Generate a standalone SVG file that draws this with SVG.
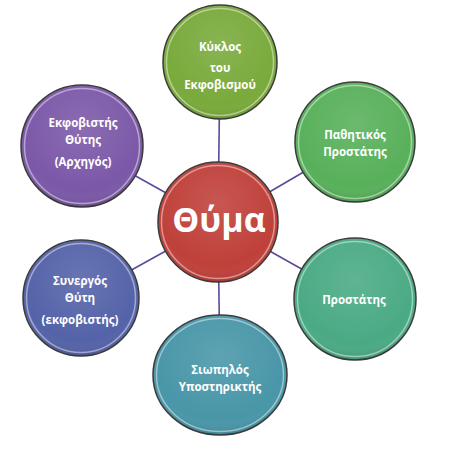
<svg xmlns="http://www.w3.org/2000/svg" width="471" height="460" viewBox="0 0 471 460">
<style>
.rim{stroke:#3a3a3a;stroke-width:1.5}
.hl{fill:none;stroke:#ffffff;stroke-opacity:0.45;stroke-width:1.5}
.lbl{font-family:"Open Sans","DejaVu Sans",sans-serif;font-weight:bold;font-size:11.5px;fill:#ffffff;text-anchor:middle}
.big{font-family:"Open Sans","DejaVu Sans",sans-serif;font-weight:bold;font-size:34px;fill:#ffffff;text-anchor:middle}
.conn line{stroke:#5a4a9a;stroke-width:1.6}
</style>
<defs>
<radialGradient id="gloss" cx="0.5" cy="0.35" r="0.65">
<stop offset="0" stop-color="#ffffff" stop-opacity="0.12"/>
<stop offset="0.8" stop-color="#ffffff" stop-opacity="0"/>
<stop offset="1" stop-color="#000000" stop-opacity="0.12"/>
</radialGradient>
</defs>
<rect width="471" height="460" fill="#ffffff"/>
<g class="conn">
<line x1="218" y1="222" x2="220" y2="62"/>
<line x1="218" y1="222" x2="355" y2="142"/>
<line x1="218" y1="222" x2="355" y2="299"/>
<line x1="218" y1="222" x2="220" y2="375"/>
<line x1="218" y1="222" x2="81" y2="298"/>
<line x1="218" y1="222" x2="82" y2="146"/>
</g>
<g id="n-kyklos">
<circle class="rim" cx="220" cy="62" r="57" fill="#79aa3b"/>
<circle cx="220" cy="62" r="57" fill="url(#gloss)"/>
<circle class="hl" cx="220" cy="62" r="53.5"/>
<text class="lbl" x="220" y="51">Κύκλος</text>
<text class="lbl" x="220" y="72">του</text>
<text class="lbl" x="220" y="89">Εκφοβισμού</text>
</g>
<g id="n-pathitikos">
<circle class="rim" cx="355" cy="142" r="60" fill="#58b05a"/>
<circle cx="355" cy="142" r="60" fill="url(#gloss)"/>
<circle class="hl" cx="355" cy="142" r="56.5"/>
<text class="lbl" x="355" y="139">Παθητικός</text>
<text class="lbl" x="355" y="156">Προστάτης</text>
</g>
<g id="n-prostatis">
<circle class="rim" cx="355" cy="299" r="61" fill="#4aaa84"/>
<circle cx="355" cy="299" r="61" fill="url(#gloss)"/>
<circle class="hl" cx="355" cy="299" r="57.5"/>
<text class="lbl" x="354" y="304">Προστάτης</text>
</g>
<g id="n-siopilos">
<ellipse class="rim" cx="220" cy="375" rx="67" ry="60" fill="#4896a8"/>
<ellipse cx="220" cy="375" rx="67" ry="60" fill="url(#gloss)"/>
<ellipse class="hl" cx="220" cy="375" rx="63.5" ry="56.5"/>
<text class="lbl" x="220" y="374">Σιωπηλός</text>
<text class="lbl" x="220" y="391">Υποστηρικτής</text>
</g>
<g id="n-synergos">
<circle class="rim" cx="81" cy="298" r="58" fill="#5462a8"/>
<circle cx="81" cy="298" r="58" fill="url(#gloss)"/>
<circle class="hl" cx="81" cy="298" r="54.5"/>
<text class="lbl" x="80" y="285">Συνεργός</text>
<text class="lbl" x="80" y="302">Θύτη</text>
<text class="lbl" x="80" y="324" font-weight="normal">(εκφοβιστής)</text>
</g>
<g id="n-ekfovistis">
<circle class="rim" cx="82" cy="146" r="61" fill="#7b58a8"/>
<circle cx="82" cy="146" r="61" fill="url(#gloss)"/>
<circle class="hl" cx="82" cy="146" r="57.5"/>
<text class="lbl" x="83" y="127">Εκφοβιστής</text>
<text class="lbl" x="83" y="144">Θύτης</text>
<text class="lbl" x="83" y="166" font-weight="normal">(Αρχηγός)</text>
</g>
<g id="n-thyma">
<circle class="rim" cx="218" cy="222" r="60" fill="#c0403a"/>
<circle cx="218" cy="222" r="60" fill="url(#gloss)"/>
<circle class="hl" cx="218" cy="222" r="56.5"/>
<text class="big" x="219" y="232">Θύμα</text>
</g>
</svg>
